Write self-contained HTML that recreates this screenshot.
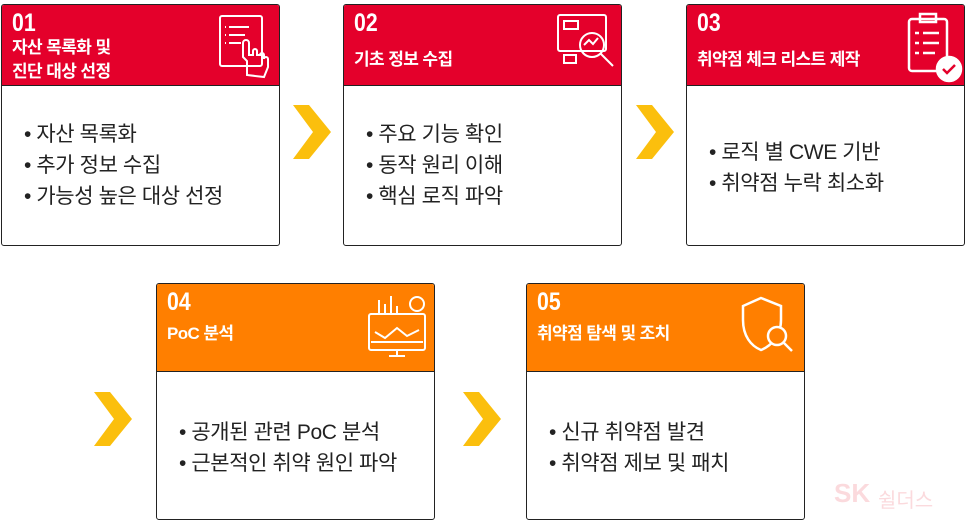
<!DOCTYPE html>
<html><head><meta charset="utf-8"><style>
body{margin:0;width:966px;height:521px;background:#fff;position:relative;overflow:hidden;font-family:"Liberation Sans","Noto Sans CJK KR",sans-serif}
.box{position:absolute;width:279px;border:1.5px solid #222;border-radius:3px;background:#fff;box-sizing:border-box;overflow:hidden}
.hd{position:absolute;left:0;top:0;right:0;border-bottom:1.5px solid #222;color:#fff}
.num{position:absolute;left:10px;top:4px;font-size:25px;font-weight:bold;transform:scaleX(.85);transform-origin:left}
.tt{position:absolute;left:10px;font-size:17px;font-weight:bold;line-height:24px;letter-spacing:-.6px}
.bd{position:absolute;left:22px;font-size:21px;line-height:31px;color:#222;letter-spacing:-.4px}
.red{background:#e4002b}.org{background:#ff7f00}
.chev{position:absolute}
svg.ic{position:absolute}
</style></head><body>

<div class="box" style="left:1px;top:4px;height:242px">
 <div class="hd red" style="height:80px"><div class="num">01</div><div class="tt" style="top:31px">자산 목록화 및<br>진단 대상 선정</div>
 <svg class="ic" style="left:215px;top:8px" width="62" height="70" fill="none" stroke="#fff" stroke-width="2"><rect x="3" y="3" width="42" height="50" rx="2"/><path d="M12 14h20M12 22h16M12 30h12M8 14h1M8 22h1M8 30h1"/><path d="M30 62v-14l-4-4v-14a3 3 0 016 0v12h4v-4a2 2 0 014 0v4h3a2 2 0 014 0v4a2 2 0 014 0v8l-4 10z"/></svg>
 </div>
 <div class="bd" style="top:114px">• 자산 목록화<br>• 추가 정보 수집<br>• 가능성 높은 대상 선정</div>
</div>

<div class="box" style="left:343px;top:4px;height:242px">
 <div class="hd red" style="height:80px"><div class="num">02</div><div class="tt" style="top:43px">기초 정보 수집</div>
 <svg class="ic" style="left:210px;top:6px" width="66" height="70" fill="none" stroke="#fff" stroke-width="2"><rect x="4" y="4" width="48" height="36" rx="2"/><rect x="10" y="10" width="14" height="8"/><rect x="10" y="44" width="12" height="8"/><circle cx="38" cy="34" r="12"/><path d="M47 43l12 12"/><path d="M30 34l5-5 4 4 5-6"/></svg>
 </div>
 <div class="bd" style="top:114px">• 주요 기능 확인<br>• 동작 원리 이해<br>• 핵심 로직 파악</div>
</div>

<div class="box" style="left:686px;top:4px;height:242px">
 <div class="hd red" style="height:80px"><div class="num">03</div><div class="tt" style="top:43px">취약점 체크 리스트 제작</div>
 <svg class="ic" style="left:218px;top:6px" width="62" height="74" fill="none" stroke="#fff" stroke-width="2.5"><rect x="4" y="8" width="38" height="52" rx="3"/><rect x="15" y="3" width="16" height="8"/><path d="M10 22h4M18 22h16M10 32h4M18 32h16M10 42h4M18 42h12"/><circle cx="44" cy="58" r="12" fill="#fff"/><path d="M38 58l4 4 8-8" stroke="#e4002b"/></svg>
 </div>
 <div class="bd" style="top:132px">• 로직 별 CWE 기반<br>• 취약점 누락 최소화</div>
</div>

<div class="box" style="left:156px;top:283px;height:237px">
 <div class="hd org" style="height:87px"><div class="num">04</div><div class="tt" style="top:38px">PoC 분석</div>
 <svg class="ic" style="left:208px;top:8px" width="66" height="66" fill="none" stroke="#fff" stroke-width="2"><rect x="4" y="22" width="56" height="36" rx="2"/><path d="M14 22v-14M20 22v-10M26 22v-18M32 22v-8M24 64h16M32 58v6M6 50h52"/><circle cx="52" cy="12" r="7"/><path d="M10 40l10 6 12-10 10 8 12-6"/></svg>
 </div>
 <div class="bd" style="top:133px">• 공개된 관련 PoC 분석<br>• 근본적인 취약 원인 파악</div>
</div>

<div class="box" style="left:526px;top:283px;height:237px">
 <div class="hd org" style="height:87px"><div class="num">05</div><div class="tt" style="top:38px">취약점 탐색 및 조치</div>
 <svg class="ic" style="left:210px;top:8px" width="66" height="66" fill="none" stroke="#fff" stroke-width="2.5"><path d="M24 6l20 8v14c0 16-10 26-20 30C14 54 6 44 6 28V14z"/><circle cx="40" cy="44" r="9" fill="#ff7f00"/><path d="M47 51l8 8"/></svg>
 </div>
 <div class="bd" style="top:133px">• 신규 취약점 발견<br>• 취약점 제보 및 패치</div>
</div>

<svg class="chev" style="left:293px;top:105px" width="40" height="54"><polygon points="0,0 16,0 38,27 16,54 0,54 20,27" fill="#fbbf0d"/></svg>
<svg class="chev" style="left:636px;top:105px" width="40" height="54"><polygon points="0,0 16,0 38,27 16,54 0,54 20,27" fill="#fbbf0d"/></svg>
<svg class="chev" style="left:94px;top:392px" width="40" height="54"><polygon points="0,0 16,0 38,27 16,54 0,54 20,27" fill="#fbbf0d"/></svg>
<svg class="chev" style="left:463px;top:392px" width="40" height="54"><polygon points="0,0 16,0 38,27 16,54 0,54 20,27" fill="#fbbf0d"/></svg>

<div style="position:absolute;left:834px;top:478px;font-size:26px;font-weight:bold;color:#fbdadd">SK</div>
<div style="position:absolute;left:878px;top:484px;font-size:20px;color:#fbdadd">쉴더스</div>
</body></html>
